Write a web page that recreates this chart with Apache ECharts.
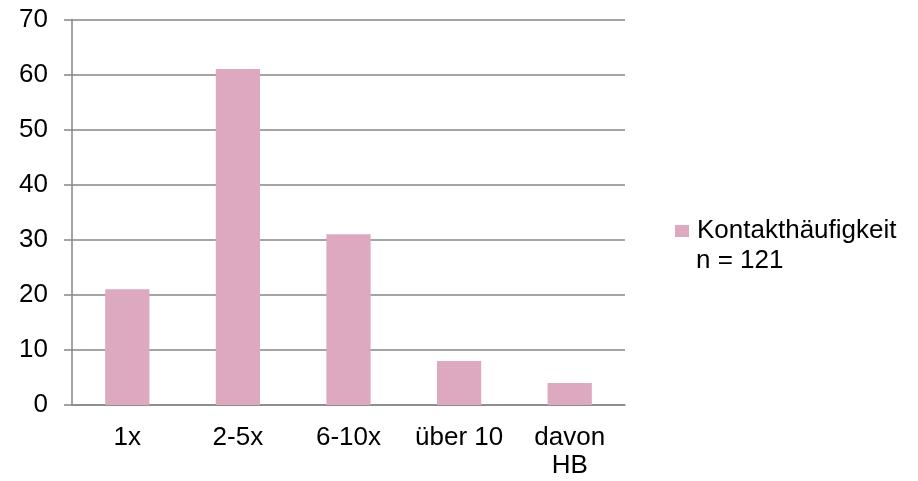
<!DOCTYPE html>
<html>
<head>
<meta charset="utf-8">
<script src="https://cdn.jsdelivr.net/npm/echarts@6/dist/echarts.min.js"></script>
<style>html,body{margin:0;padding:0;background:#fff}#c{width:918px;height:481px}</style>
</head>
<body>
<div id="c"></div>
<script>
var categories = ['1x', '2-5x', '6-10x', 'über 10', 'davon\nHB'];
var values = [21, 61, 31, 8, 4];
var seriesName = 'Kontakthäufigkeit';
var sampleNote = 'n = 121';

var chart = echarts.init(document.getElementById('c'));
var font = 'Liberation Sans, Arial, sans-serif';
var axisColor = '#868686';
chart.setOption({
  animation: false,
  grid: { left: 72, right: 293, top: 19.5, bottom: 76 },
  legend: {
    left: 675, top: 218, padding: 0,
    itemWidth: 14, itemHeight: 12,
    icon: 'rect',
    textStyle: { fontFamily: font, fontSize: 26, color: '#000', padding: [0, 0, 0, 3] },
    data: [seriesName]
  },
  graphic: [{
    type: 'text', left: 696, top: 248,
    style: { text: sampleNote, fontFamily: font, fontSize: 26, fill: '#000' }
  }],
  xAxis: {
    type: 'category', data: categories,
    axisLine: { lineStyle: { color: axisColor, width: 1.5 } },
    axisTick: { length: 8, lineStyle: { color: axisColor, width: 1.5 } },
    axisLabel: { fontFamily: font, fontSize: 26, color: '#000', margin: 19, lineHeight: 28, interval: 0 }
  },
  yAxis: {
    type: 'value', min: 0, max: 70, interval: 10,
    axisLine: { show: true, lineStyle: { color: axisColor, width: 1.5 } },
    axisTick: { show: true, length: 8, lineStyle: { color: axisColor, width: 1.5 } },
    splitLine: { lineStyle: { color: axisColor, width: 1.5 } },
    axisLabel: { fontFamily: font, fontSize: 26, color: '#000', margin: 24 }
  },
  series: [{
    name: seriesName, type: 'bar', data: values,
    barCategoryGap: '60%',
    itemStyle: { color: '#DDA9C0' }
  }]
});
</script>
</body>
</html>
